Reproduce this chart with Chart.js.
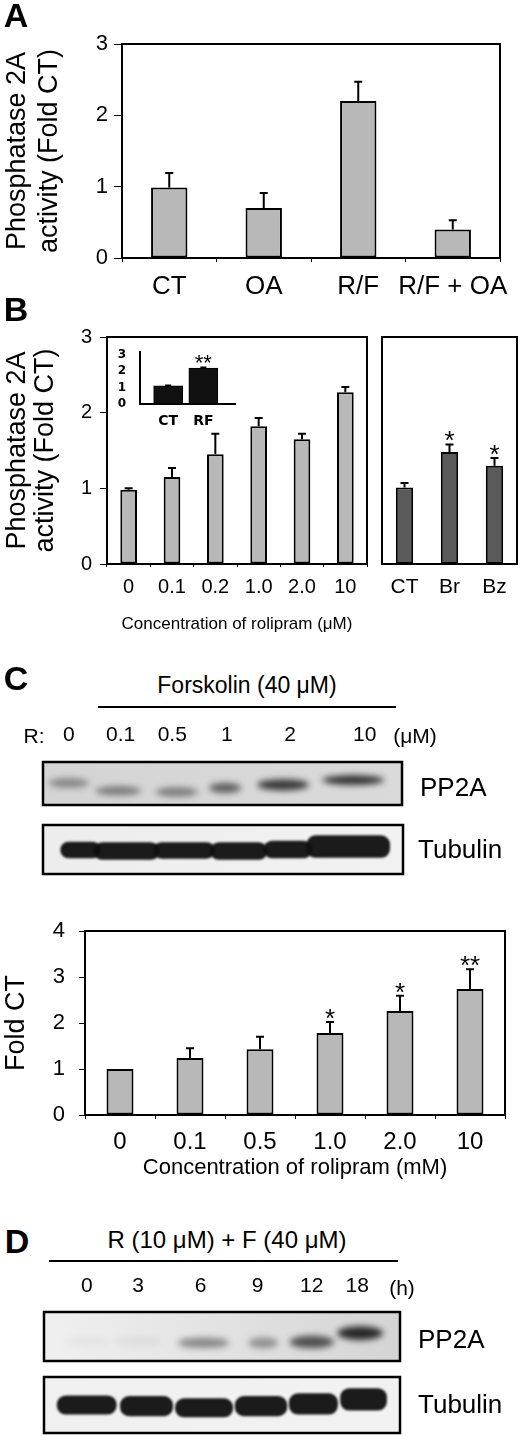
<!DOCTYPE html>
<html>
<head>
<meta charset="utf-8">
<script src="https://cdn.jsdelivr.net/npm/chart.js@4.4.1/dist/chart.umd.min.js"></script>
<style>
  body { margin: 0; background: #fff; }
  #page { position: relative; width: 520px; height: 1436px; overflow: hidden; font-family: "Liberation Sans", Arial, sans-serif; color: #000; }
  canvas { position: absolute; }
  .t { position: absolute; white-space: nowrap; line-height: 1; transform: translate(-50%, -50%); }
  .l { position: absolute; white-space: nowrap; line-height: 1; transform: translateY(-50%); }
  .big { font-weight: bold; font-size: 34px; }
  .rule { position: absolute; height: 2px; background: #000; }
</style>
</head>
<body>
<div id="page">
  <canvas id="cA" width="520" height="305" style="left:0;top:0"></canvas>
  <canvas id="cB1" width="372" height="350" style="left:0;top:290px"></canvas>
  <canvas id="cB2" width="148" height="350" style="left:372px;top:290px"></canvas>
  <canvas id="cIn" width="140" height="85" style="left:105px;top:340px"></canvas>
  <canvas id="bC1" width="520" height="100" style="left:0;top:712px"></canvas>
  <canvas id="bC2" width="520" height="65" style="left:0;top:815px"></canvas>
  <canvas id="cC" width="520" height="290" style="left:0;top:900px"></canvas>
  <canvas id="bD1" width="520" height="104" style="left:0;top:1262px"></canvas>
  <canvas id="bD2" width="520" height="69" style="left:0;top:1367px"></canvas>

  <div class="t big" style="left:16px;top:15px">A</div>
  <div class="t big" style="left:16px;top:309px">B</div>
  <div class="t big" style="left:16px;top:678px">C</div>
  <div class="t big" style="left:17px;top:1241px">D</div>

  <div class="t" style="left:247px;top:685px;font-size:23px">Forskolin (40 μM)</div>
  <div class="rule" style="left:98px;top:706px;width:298px"></div>
  <div class="t" style="left:34px;top:735px;font-size:21px">R:</div>
  <div class="t" style="left:415px;top:735px;font-size:21px">(μM)</div>
  <div class="l" style="left:420px;top:787px;font-size:26px">PP2A</div>
  <div class="l" style="left:418px;top:849px;font-size:26px">Tubulin</div>

  <div class="t" style="left:227px;top:1240px;font-size:24px">R (10 μM) + F (40 μM)</div>
  <div class="rule" style="left:49px;top:1260px;width:349px"></div>
  <div class="t" style="left:402px;top:1287px;font-size:21px">(h)</div>
  <div class="l" style="left:418px;top:1339px;font-size:26px">PP2A</div>
  <div class="l" style="left:418px;top:1404px;font-size:26px">Tubulin</div>
</div>
<script>
// panel A: PP2A activity
const catsA = ["CT", "OA", "R/F", "R/F + OA"];
const valsA = [0.99, 0.70, 2.20, 0.40];
const errA = [0.20, 0.21, 0.27, 0.13];

// panel B: rolipram dose (left) and other inhibitors (right)
const catsB = ["0", "0.1", "0.2", "1.0", "2.0", "10"];
const valsB = [0.98, 1.15, 1.45, 1.82, 1.65, 2.27];
const errB = [0.02, 0.12, 0.27, 0.11, 0.07, 0.07];
const catsB2 = ["CT", "Br", "Bz"];
const valsB2 = [1.01, 1.48, 1.30];
const errB2 = [0.06, 0.10, 0.10];
const sigB2 = ["", "*", "*"];
// inset
const catsIn = ["CT", "RF"];
const valsIn = [1.1, 2.2];
const errIn = [0.02, 0.03];
const sigIn = ["", "**"];

// panel C densitometry
const catsC = ["0", "0.1", "0.5", "1.0", "2.0", "10"];
const valsC = [1.0, 1.24, 1.43, 1.78, 2.26, 2.74];
const errC = [0, 0.21, 0.27, 0.24, 0.33, 0.43];
const sigC = ["", "", "", "*", "*", "**"];

// blot lanes (lane units on the blot x scale)
const lanesC = ["0", "0.1", "0.5", "1", "2", "10"];
const laneXC = [0, 0.9, 1.8, 2.75, 3.85, 5.15];
const pp2aC = [0.4, 0.45, 0.45, 0.6, 0.8, 0.85];
const lanesD = ["0", "3", "6", "9", "12", "18"];
const laneXD = [0, 0.9, 2.0, 3.0, 3.95, 4.75];
const pp2aD = [0.03, 0.05, 0.42, 0.38, 0.68, 0.88];

const FONT = '"Liberation Sans", Arial, sans-serif';
Chart.defaults.font.family = FONT;
Chart.defaults.color = "#000";

// error bars + significance stars
const errBars = {
  id: "errbars",
  afterDatasetsDraw(chart, args, o) {
    if (!o.err) return;
    const ctx = chart.ctx, ys = chart.scales.y;
    const vals = chart.data.datasets[0].data;
    ctx.save();
    ctx.strokeStyle = "#000";
    ctx.lineWidth = 2;
    chart.getDatasetMeta(0).data.forEach((bar, i) => {
      const v = typeof vals[i] === "object" ? vals[i].y : vals[i];
      const top = ys.getPixelForValue(v + (o.err[i] || 0));
      if (o.err[i]) {
        ctx.beginPath();
        ctx.moveTo(bar.x, ys.getPixelForValue(v));
        ctx.lineTo(bar.x, top);
        ctx.moveTo(bar.x - o.cap / 2, top);
        ctx.lineTo(bar.x + o.cap / 2, top);
        ctx.stroke();
      }
      const s = o.sig && o.sig[i];
      if (s) {
        ctx.font = o.sigSize + "px " + FONT;
        ctx.textAlign = "center";
        ctx.textBaseline = "alphabetic";
        ctx.fillStyle = "#000";
        ctx.fillText(s, bar.x, top - 10 + 0.57 * o.sigSize);
      }
    });
    ctx.restore();
  }
};

// box round the plot area
const frame = {
  id: "frame",
  afterDraw(chart, args, o) {
    if (!o.on) return;
    const a = chart.chartArea, ctx = chart.ctx;
    ctx.save();
    ctx.strokeStyle = "#000";
    ctx.lineWidth = 2;
    ctx.strokeRect(a.left, a.top, a.width, a.height);
    ctx.restore();
  }
};

// western blot strips
const bands = {
  id: "bands",
  beforeDatasetsDraw(chart, args, o) {
    if (!o.kind) return;
    const ctx = chart.ctx, a = chart.chartArea, xs = chart.scales.x;
    ctx.save();
    const g = ctx.createLinearGradient(a.left, 0, a.right, 0);
    g.addColorStop(0, o.bg[0]);
    g.addColorStop(1, o.bg[1]);
    ctx.fillStyle = g;
    ctx.fillRect(a.left, a.top, a.width, a.height);
    ctx.beginPath();
    ctx.rect(a.left, a.top, a.width, a.height);
    ctx.clip();
    chart.getDatasetMeta(0).data.forEach((p, i) => {
      const hw = (xs.getPixelForValue(o.x[i] + o.w[i] / 2) - xs.getPixelForValue(o.x[i] - o.w[i] / 2)) / 2;
      const hh = o.h[i] * a.height / 2;
      ctx.filter = "blur(" + o.blur + "px)";
      ctx.fillStyle = "rgba(15,15,15," + o.dark[i] + ")";
      ctx.beginPath();
      if (o.kind === "pp2a") ctx.ellipse(p.x, p.y, hw, hh, 0, 0, Math.PI * 2);
      else ctx.roundRect(p.x - hw, p.y - hh, hw * 2, hh * 2, Math.min(hh, 9));
      ctx.fill();
    });
    ctx.restore();
    ctx.save();
    ctx.lineWidth = 2.5;
    ctx.strokeStyle = "#000";
    ctx.strokeRect(a.left, a.top, a.width, a.height);
    ctx.restore();
  }
};

Chart.register(errBars, frame, bands);

function barChart(id, o) {
  return new Chart(document.getElementById(id), {
    type: "bar",
    data: {
      labels: o.labels,
      datasets: [{
        data: o.values,
        backgroundColor: o.color,
        borderColor: "#000",
        borderWidth: 2,
        borderSkipped: false,
        barPercentage: 0.385,
        categoryPercentage: 1
      }]
    },
    options: {
      responsive: false,
      animation: false,
      events: [],
      layout: { padding: o.pad },
      plugins: {
        legend: { display: false },
        tooltip: { enabled: false },
        errbars: { err: o.err, sig: o.sig, cap: 8, sigSize: 26 },
        frame: { on: true }
      },
      scales: {
        x: {
          grid: { drawOnChartArea: false, tickLength: o.xTick, color: "#000" },
          border: { display: false },
          ticks: { font: { size: o.xFont }, padding: o.xPad, maxRotation: 0, autoSkip: false },
          title: o.xTitle ? { display: true, text: o.xTitle, font: { size: o.xTitleSize }, padding: { top: 0, bottom: o.xTitlePad } } : { display: false },
          afterFit: s => { s.height = o.xHeight; }
        },
        y: {
          display: o.yShow,
          min: 0,
          max: o.yMax,
          grid: { drawOnChartArea: false, tickLength: o.yTick, color: "#000" },
          border: { display: false },
          ticks: { stepSize: 1, font: { size: o.yFont }, padding: o.yPad },
          title: o.yTitle ? { display: true, text: o.yTitle, font: { size: 27, lineHeight: o.yLine }, padding: { top: o.yTitlePad, bottom: 0 } } : { display: false },
          afterFit: s => { s.width = o.yWidth; }
        }
      }
    }
  });
}

barChart("cA", {
  labels: catsA, values: valsA, err: errA, color: "#b8b8b8",
  pad: { top: 44, right: 20, left: 0, bottom: 0 },
  xTick: 4, xFont: 26, xPad: 9, xHeight: 47,
  yShow: true, yMax: 3, yTick: 8, yFont: 22, yPad: 6, yWidth: 122,
  yTitle: ["Phosphatase 2A", "activity (Fold CT)"], yLine: 1.2, yTitlePad: 1
});

barChart("cB1", {
  labels: catsB, values: valsB, err: errB, color: "#b8b8b8",
  pad: { top: 47, right: 5, left: 0, bottom: 0 },
  xTick: 3, xFont: 20, xPad: 8, xHeight: 76,
  xTitle: "Concentration of rolipram (μM)", xTitleSize: 17, xTitlePad: 5,
  yShow: true, yMax: 3, yTick: 7, yFont: 20, yPad: 8, yWidth: 107,
  yTitle: ["Phosphatase 2A", "activity (Fold CT)"], yLine: 1.05, yTitlePad: 3
});

barChart("cB2", {
  labels: catsB2, values: valsB2, err: errB2, sig: sigB2, color: "#5a5a5a",
  pad: { top: 47, right: 3, left: 10, bottom: 0 },
  xTick: 0, xFont: 21, xPad: 11, xHeight: 76,
  yShow: false, yMax: 3, yTick: 0, yFont: 20, yPad: 0, yWidth: 0
});

barChart("cC", {
  labels: catsC, values: valsC, err: errC, sig: sigC, color: "#b8b8b8",
  pad: { top: 31, right: 15, left: 0, bottom: 0 },
  xTick: 4, xFont: 24, xPad: 9, xHeight: 75,
  xTitle: "Concentration of rolipram (mM)", xTitleSize: 22, xTitlePad: 9,
  yShow: true, yMax: 4, yTick: 6, yFont: 22, yPad: 14, yWidth: 85,
  yTitle: "Fold CT", yLine: 1.2, yTitlePad: 0
});

// inset of panel B
new Chart(document.getElementById("cIn"), {
  type: "bar",
  data: {
    datasets: [{
      data: valsIn.map((v, i) => ({ x: i, y: v })),
      backgroundColor: "#111",
      borderColor: "#000",
      borderWidth: 1,
      barThickness: 29
    }]
  },
  options: {
    responsive: false,
    animation: false,
    events: [],
    layout: { padding: { top: 10, right: 10, left: 0, bottom: 0 } },
    plugins: {
      legend: { display: false },
      tooltip: { enabled: false },
      errbars: { err: errIn, sig: sigIn, cap: 6, sigSize: 22 }
    },
    scales: {
      x: {
        type: "linear", min: -0.8, max: 1.9, offset: false,
        grid: { display: false },
        border: { display: true, color: "#000", width: 2 },
        afterBuildTicks: s => { s.ticks = catsIn.map((c, i) => ({ value: i })); },
        ticks: { callback: (v, i) => catsIn[i], font: { size: 14, weight: "bold", family: "DejaVu Sans" }, padding: 1, maxRotation: 0, autoSkip: false },
        afterFit: s => { s.height = 21.5; }
      },
      y: {
        min: 0, max: 3.2,
        grid: { display: false },
        border: { display: true, color: "#000", width: 2 },
        ticks: { stepSize: 1, includeBounds: false, autoSkip: false, font: { size: 12, weight: "bold", family: "DejaVu Sans", lineHeight: 1 }, padding: 6 },
        afterFit: s => { s.width = 35; }
      }
    }
  }
});

function blot(id, o) {
  return new Chart(document.getElementById(id), {
    type: "scatter",
    data: { datasets: [{ data: o.x.map((x, i) => ({ x: x, y: o.y[i] })), pointRadius: 0 }] },
    options: {
      responsive: false,
      animation: false,
      events: [],
      layout: { padding: o.pad },
      plugins: {
        legend: { display: false },
        tooltip: { enabled: false },
        bands: { kind: o.kind, x: o.x, w: o.w, h: o.h, dark: o.dark, bg: o.bg, blur: o.blur }
      },
      scales: {
        x: {
          type: "linear", position: "top", min: o.min, max: o.max, offset: false,
          display: !!o.labels,
          grid: { display: false },
          border: { display: false },
          afterBuildTicks: s => { if (o.labels) s.ticks = o.tickX.map(v => ({ value: v })); },
          ticks: { callback: (v, i) => o.labels ? o.labels[i] : "", font: { size: 21 }, padding: o.tickPad, maxRotation: 0, autoSkip: false },
          afterFit: s => { s.height = o.xHeight; }
        },
        y: { min: 0, max: 1, display: false }
      }
    }
  });
}

// panel C blots
blot("bC1", {
  kind: "pp2a", labels: lanesC, tickX: laneXC, min: -0.45, max: 5.8,
  x: [0, 0.86, 1.88, 2.72, 3.73, 4.95], y: [0.51, 0.33, 0.3, 0.4, 0.47, 0.58],
  w: [0.7, 0.8, 0.74, 0.56, 0.9, 1.08], h: [0.22, 0.22, 0.22, 0.24, 0.26, 0.22],
  dark: pp2aC, bg: ["#d4d4d4", "#dadada"], blur: 3,
  pad: { left: 43, right: 118, top: 0, bottom: 7 }, xHeight: 50, tickPad: 6
});
blot("bC2", {
  kind: "tub", min: -0.45, max: 5.8,
  x: [0.2, 1.0, 2.0, 2.95, 3.8, 4.85], y: [0.49, 0.47, 0.48, 0.47, 0.5, 0.56],
  w: [0.7, 1.15, 1.07, 1.0, 0.85, 1.45], h: [0.34, 0.36, 0.34, 0.36, 0.36, 0.46],
  dark: [0.95, 0.95, 0.95, 0.95, 0.95, 0.95], bg: ["#ededed", "#f2f2f2"], blur: 1,
  pad: { left: 43, right: 117, top: 10, bottom: 6 }, xHeight: 0
});

// panel D blots
blot("bD1", {
  kind: "pp2a", labels: lanesD, tickX: laneXD, min: -0.75, max: 5.5,
  x: [0, 0.9, 2.05, 3.1, 3.95, 4.8], y: [0.4, 0.4, 0.37, 0.37, 0.39, 0.57],
  w: [0.8, 0.8, 0.9, 0.52, 0.78, 0.8], h: [0.2, 0.2, 0.22, 0.22, 0.26, 0.28],
  dark: pp2aD, bg: ["#f0f0f0", "#d4d4d4"], blur: 3,
  pad: { left: 44, right: 120, top: 0, bottom: 5 }, xHeight: 50, tickPad: 5
});
blot("bD2", {
  kind: "tub", min: -0.75, max: 5.5,
  x: [0.0, 1.05, 2.06, 3.06, 3.98, 4.86], y: [0.5, 0.48, 0.45, 0.48, 0.52, 0.6],
  w: [1.05, 0.93, 1.02, 0.92, 0.86, 0.82], h: [0.34, 0.36, 0.34, 0.36, 0.38, 0.4],
  dark: [0.95, 0.95, 0.95, 0.95, 0.95, 0.95], bg: ["#f0f0f0", "#f2f2f2"], blur: 1,
  pad: { left: 44, right: 120, top: 10, bottom: 3 }, xHeight: 0
});
</script>
</body>
</html>
